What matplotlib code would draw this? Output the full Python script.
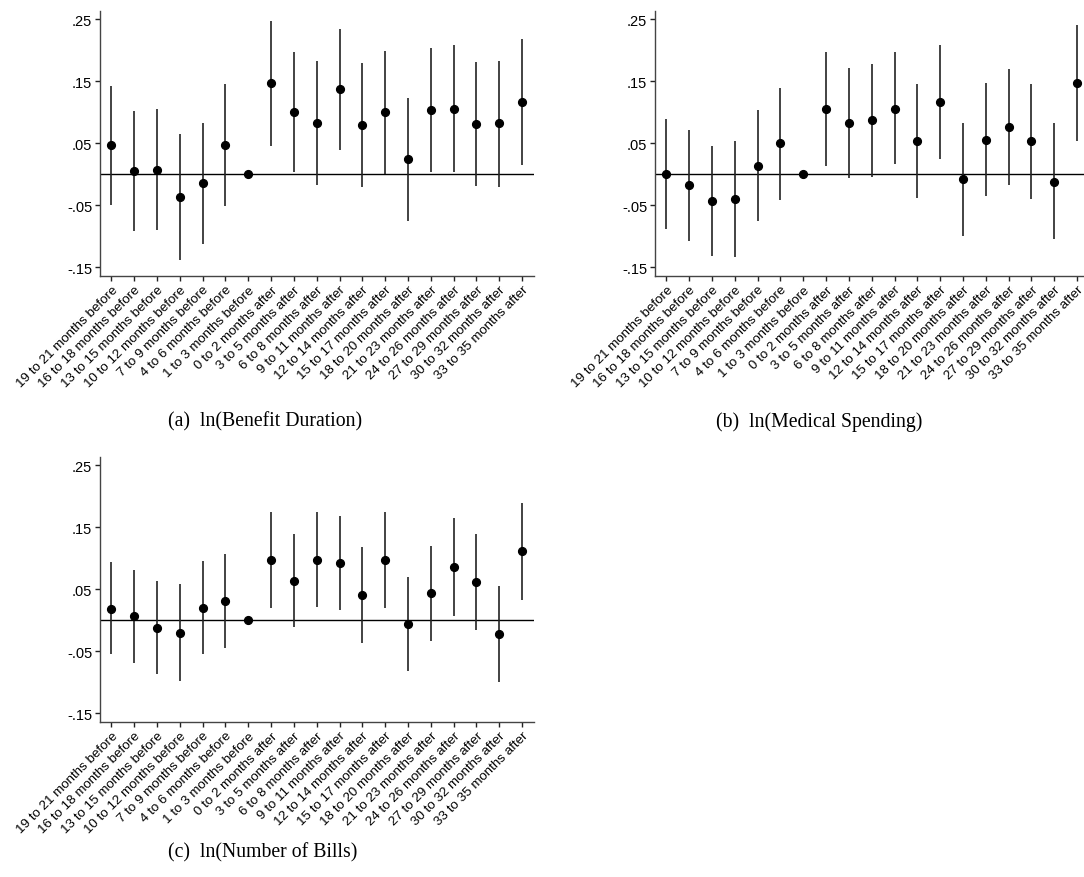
import numpy as np
import matplotlib
matplotlib.use("Agg")
import matplotlib.pyplot as plt

labels = ["19 to 21 months before", "16 to 18 months before", "13 to 15 months before",
          "10 to 12 months before", "7 to 9 months before", "4 to 6 months before",
          "1 to 3 months before", "0 to 2 months after", "3 to 5 months after",
          "6 to 8 months after", "9 to 11 months after", "12 to 14 months after",
          "15 to 17 months after", "18 to 20 months after", "21 to 23 months after",
          "24 to 26 months after", "27 to 29 months after", "30 to 32 months after",
          "33 to 35 months after"]

# (a) ln(Benefit Duration)
dur_coef = [0.047, 0.005, 0.0075, -0.036, -0.0145, 0.048, 0.0, 0.147, 0.101, 0.083,
            0.137, 0.080, 0.100, 0.024, 0.103, 0.106, 0.081, 0.082, 0.117]
dur_lo = [-0.049, -0.092, -0.089, -0.138, -0.112, -0.051, 0.0, 0.046, 0.004, -0.017,
          0.039, -0.020, 0.0005, -0.075, 0.003, 0.004, -0.019, -0.020, 0.0145]
dur_hi = [0.143, 0.102, 0.105, 0.065, 0.083, 0.146, 0.0, 0.247, 0.198, 0.182,
          0.235, 0.180, 0.199, 0.123, 0.203, 0.208, 0.181, 0.183, 0.218]

# (b) ln(Medical Spending)
med_coef = [0.0, -0.018, -0.043, -0.040, 0.014, 0.050, 0.0, 0.106, 0.083, 0.087,
            0.106, 0.054, 0.116, -0.008, 0.056, 0.076, 0.054, -0.012, 0.147]
med_lo = [-0.088, -0.108, -0.132, -0.133, -0.076, -0.041, 0.0, 0.014, -0.006, -0.004,
          0.016, -0.038, 0.024, -0.099, -0.035, -0.017, -0.039, -0.105, 0.053]
med_hi = [0.089, 0.071, 0.046, 0.053, 0.104, 0.140, 0.0, 0.198, 0.172, 0.178,
          0.197, 0.146, 0.208, 0.083, 0.148, 0.170, 0.146, 0.082, 0.240]

# (c) ln(Number of Bills)
bill_coef = [0.019, 0.0065, -0.012, -0.020, 0.020, 0.031, 0.0, 0.098, 0.064, 0.098,
             0.092, 0.041, 0.098, -0.006, 0.0435, 0.0865, 0.0625, -0.022, 0.111]
bill_lo = [-0.055, -0.069, -0.087, -0.098, -0.055, -0.045, 0.0, 0.020, -0.011, 0.0215,
           0.017, -0.037, 0.020, -0.082, -0.034, 0.0075, -0.015, -0.100, 0.033]
bill_hi = [0.094, 0.081, 0.063, 0.058, 0.096, 0.107, 0.0, 0.175, 0.139, 0.174,
           0.168, 0.118, 0.174, 0.070, 0.120, 0.165, 0.139, 0.056, 0.190]

W, H = 1084, 878
fig = plt.figure(figsize=(W / 100, H / 100), dpi=100)

sans = ["Liberation Sans", "DejaVu Sans"]
serif = ["Liberation Serif", "DejaVu Serif"]


def panel(left_px, top_px, coef, lo, hi):
    ax = fig.add_axes([left_px / W, 1 - (top_px + 264.4) / H, 433.5 / W, 264.4 / H])
    x = np.arange(len(labels))
    ax.axhline(0, color="black", lw=1.0, zorder=1)
    ax.vlines(x, lo, hi, color="#222222", lw=1.2, zorder=2)
    ax.plot(x, coef, "o", color="black", ms=5.6, zorder=3)
    ax.set_xlim(-0.5, 18.5)
    ax.set_ylim(-0.1635, 0.2629)
    ax.set_yticks([-0.15, -0.05, 0.05, 0.15, 0.25])
    ax.set_yticklabels(["-.15", "-.05", ".05", ".15", ".25"], family=sans, fontsize=10.5)
    ax.set_xticks(x)
    ax.set_xticklabels(labels, rotation=45, ha="right", rotation_mode="anchor",
                       family=sans, fontsize=9.6)
    for s in ["top", "right"]:
        ax.spines[s].set_visible(False)
    for s in ["left", "bottom"]:
        ax.spines[s].set_color("#444444")
        ax.spines[s].set_linewidth(1.0)
    ax.tick_params(length=3.6, width=1.0, color="#222222", pad=2)
    return ax


panel(100, 12.3, dur_coef, dur_lo, dur_hi)
panel(655, 12.3, med_coef, med_lo, med_hi)
panel(100, 458.3, bill_coef, bill_lo, bill_hi)

fig.text(168 / W, 1 - 422 / H, "(a)  ln(Benefit Duration)", family=serif, fontsize=14.2,
         ha="left", va="center")
fig.text(716 / W, 1 - 422 / H, "(b)  ln(Medical Spending)", family=serif, fontsize=14.2,
         ha="left", va="center")
fig.text(168 / W, 1 - 853 / H, "(c)  ln(Number of Bills)", family=serif, fontsize=14.2,
         ha="left", va="center")

fig.savefig("out.png", dpi=100)
